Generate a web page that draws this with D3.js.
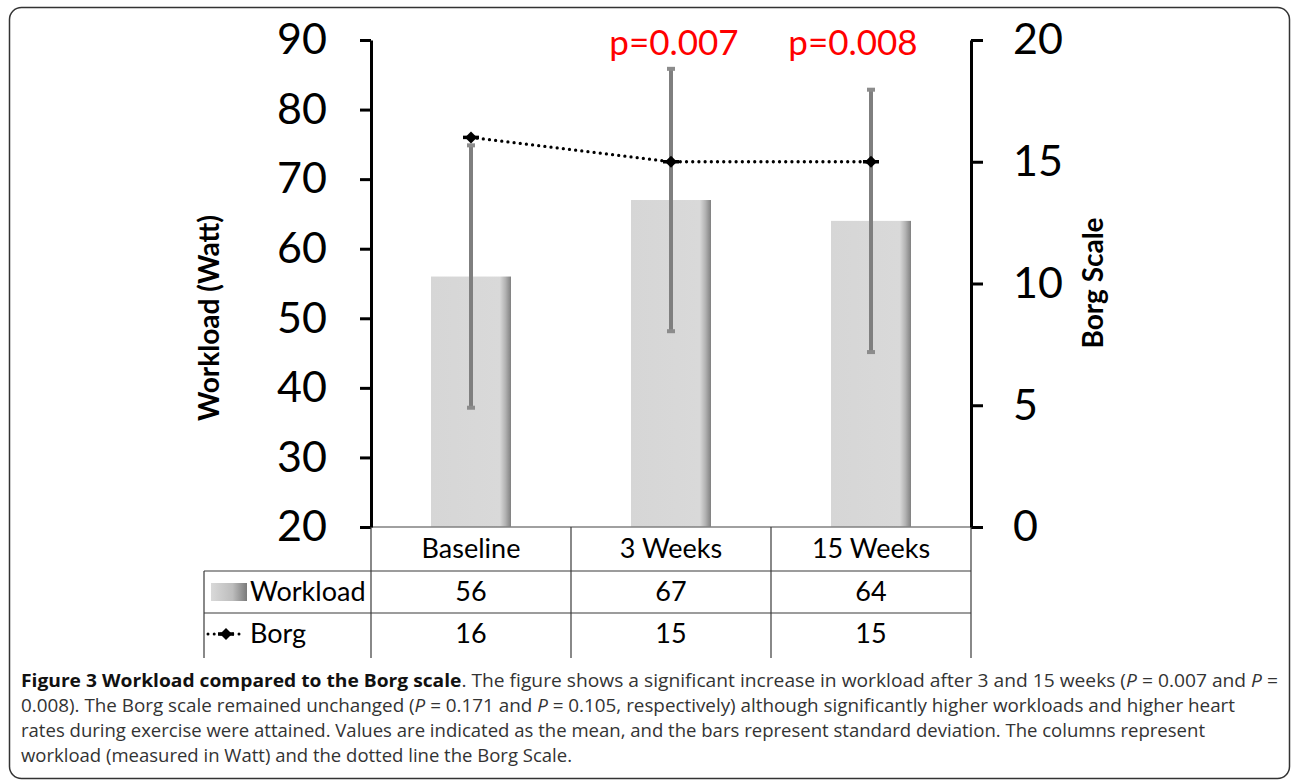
<!DOCTYPE html>
<html>
<head>
<meta charset="utf-8">
<script src="https://cdn.jsdelivr.net/npm/d3@7"></script>
<style>
  html, body { margin: 0; padding: 0; background: #fff; }
  svg { display: block; }
</style>
</head>
<body>
<svg id="chart" width="1292" height="780"></svg>
<script>
// ---- data ----
const categories = ["Baseline", "3 Weeks", "15 Weeks"];
const workload = [56, 67, 64];
const workloadSD = [19, 19, 19];
const borg = [16, 15, 15];
const leftTicks = [20, 30, 40, 50, 60, 70, 80, 90];
const rightTicks = [0, 5, 10, 15, 20];
const pCategories = ["3 Weeks", "15 Weeks"];
const pTexts = ["p=0.007", "p=0.008"];
const pOffsets = [3, -18];
const seriesNames = ["Workload", "Borg"];

const svg = d3.select("#chart");
const FONT = "Lato, 'Open Sans', sans-serif";

svg.append("rect").attr("width", 1292).attr("height", 780).attr("fill", "#fff");

// gradients
const defs = svg.append("defs");
const g1 = defs.append("linearGradient").attr("id", "barGrad").attr("x1", "0").attr("x2", "1").attr("y1", "0").attr("y2", "0");
g1.append("stop").attr("offset", "0").attr("stop-color", "#d6d6d6");
g1.append("stop").attr("offset", "0.86").attr("stop-color", "#d9d9d9");
g1.append("stop").attr("offset", "0.93").attr("stop-color", "#b3b3b3");
g1.append("stop").attr("offset", "1").attr("stop-color", "#808080");
const g2 = defs.append("linearGradient").attr("id", "legGrad").attr("x1", "0").attr("x2", "1").attr("y1", "0").attr("y2", "0");
g2.append("stop").attr("offset", "0").attr("stop-color", "#d9d9d9");
g2.append("stop").attr("offset", "0.6").attr("stop-color", "#bdbdbd");
g2.append("stop").attr("offset", "1").attr("stop-color", "#7a7a7a");

// outer frame
svg.append("rect").attr("x", 9.5).attr("y", 7.5).attr("width", 1280).attr("height", 771)
  .attr("rx", 12).attr("fill", "none").attr("stroke", "#333").attr("stroke-width", 1.5);

// scales
const x = d3.scaleBand().domain(categories).range([371, 971]).padding(0);
const xBar = d3.scaleBand().domain(categories).range([371, 971]).paddingInner(0.6).paddingOuter(0.3);
const yL = d3.scaleLinear().domain([20, 90]).range([527, 40]);
const yR = d3.scaleLinear().domain([0, 20]).range([527, 40]);

// bars
svg.append("g").selectAll("rect").data(categories).join("rect")
  .attr("x", d => xBar(d))
  .attr("width", xBar.bandwidth())
  .attr("y", (d, i) => yL(workload[i]))
  .attr("height", (d, i) => yL(20) - yL(workload[i]))
  .attr("fill", "url(#barGrad)");

// error bars
const eb = svg.append("g").attr("stroke", "#7f7f7f").attr("fill", "#8c8c8c");
categories.forEach((c, i) => {
  const cx = xBar(c) + xBar.bandwidth() / 2;
  const top = yL(workload[i] + workloadSD[i]);
  const bot = yL(workload[i] - workloadSD[i]);
  eb.append("line").attr("x1", cx).attr("x2", cx).attr("y1", top).attr("y2", bot).attr("stroke-width", 4);
  eb.append("rect").attr("x", cx - 4).attr("y", top - 1).attr("width", 8).attr("height", 4).attr("stroke", "none");
  eb.append("rect").attr("x", cx - 4).attr("y", bot - 3).attr("width", 8).attr("height", 4).attr("stroke", "none");
});

// x baseline
svg.append("line").attr("x1", 371).attr("x2", 971).attr("y1", yL(20)).attr("y2", yL(20))
  .attr("stroke", "#808080").attr("stroke-width", 1.5);

// left axis
const axL = svg.append("g").attr("transform", "translate(371,0)")
  .call(d3.axisLeft(yL).tickValues(leftTicks).tickSize(11).tickSizeOuter(0).tickPadding(33));
axL.select(".domain").attr("stroke", "#000").attr("stroke-width", 3);
axL.selectAll(".tick line").attr("stroke", "#000").attr("stroke-width", 3);
axL.selectAll(".tick text").attr("font-family", FONT).attr("font-size", 43).attr("fill", "#000");

// right axis
const axR = svg.append("g").attr("transform", "translate(971,0)")
  .call(d3.axisRight(yR).tickValues(rightTicks).tickSize(12).tickSizeOuter(0).tickPadding(30));
axR.select(".domain").attr("stroke", "#000").attr("stroke-width", 3);
axR.selectAll(".tick line").attr("stroke", "#000").attr("stroke-width", 3);
axR.selectAll(".tick text").attr("font-family", FONT).attr("font-size", 43).attr("fill", "#000");

// axis titles
svg.append("text").attr("transform", "translate(219,318) rotate(-90)")
  .attr("text-anchor", "middle").attr("font-family", FONT).attr("font-weight", "bold")
  .attr("font-size", 28).attr("fill", "#000").text("Workload (Watt)");
svg.append("text").attr("transform", "translate(1103,283) rotate(-90)")
  .attr("text-anchor", "middle").attr("font-family", FONT).attr("font-weight", "bold")
  .attr("font-size", 28).attr("fill", "#000").text("Borg Scale");

// Borg line
const borgPts = categories.map((c, i) => [xBar(c) + xBar.bandwidth() / 2, yR(borg[i])]);
svg.append("path").attr("d", d3.line()(borgPts)).attr("fill", "none")
  .attr("stroke", "#000").attr("stroke-width", 3.3).attr("stroke-dasharray", "0,6.2").attr("stroke-linecap", "round");

function marker(g, px, py) {
  g.append("path").attr("transform", `translate(${px},${py}) rotate(45)`)
    .attr("d", d3.symbol(d3.symbolSquare, 72)()).attr("fill", "#000");
  g.append("line").attr("x1", px - 8).attr("x2", px + 8).attr("y1", py).attr("y2", py)
    .attr("stroke", "#000").attr("stroke-width", 3.5);
}
const mk = svg.append("g");
borgPts.forEach(p => marker(mk, p[0], p[1]));

// p-value annotations
pCategories.forEach((c, i) => {
  svg.append("text").attr("x", x(c) + x.bandwidth() / 2 + pOffsets[i]).attr("y", 55)
    .attr("text-anchor", "middle").attr("font-family", FONT).attr("font-size", 35)
    .attr("fill", "#ff0000").text(pTexts[i]);
});

// data table
const tbl = svg.append("g").attr("stroke", "#3a3a3a").attr("stroke-width", 1.2);
const colEdges = [...categories.map(c => x(c)), x(categories[categories.length - 1]) + x.bandwidth()];
colEdges.forEach(ex => tbl.append("line").attr("x1", ex).attr("x2", ex).attr("y1", 527).attr("y2", 658));
tbl.append("line").attr("x1", 204).attr("x2", 204).attr("y1", 571).attr("y2", 658);
[571, 613].forEach(yy => tbl.append("line").attr("x1", 204).attr("x2", 971).attr("y1", yy).attr("y2", yy));

const rowY = [549, 592, 634];
const tFont = 27;
categories.forEach((c, i) => {
  const cx = x(c) + x.bandwidth() / 2;
  svg.append("text").attr("x", cx).attr("y", rowY[0]).attr("dy", "0.35em").attr("text-anchor", "middle")
    .attr("font-family", FONT).attr("font-size", tFont).attr("fill", "#000").text(c);
  svg.append("text").attr("x", cx).attr("y", rowY[1]).attr("dy", "0.35em").attr("text-anchor", "middle")
    .attr("font-family", FONT).attr("font-size", tFont).attr("fill", "#000").text(workload[i]);
  svg.append("text").attr("x", cx).attr("y", rowY[2]).attr("dy", "0.35em").attr("text-anchor", "middle")
    .attr("font-family", FONT).attr("font-size", tFont).attr("fill", "#000").text(borg[i]);
});
// legend keys
svg.append("rect").attr("x", 211).attr("y", 583).attr("width", 36).attr("height", 18).attr("fill", "url(#legGrad)");
svg.append("line").attr("x1", 208).attr("x2", 245).attr("y1", rowY[2]).attr("y2", rowY[2])
  .attr("stroke", "#000").attr("stroke-width", 3).attr("stroke-dasharray", "0,6.2").attr("stroke-linecap", "round");
marker(svg, 226, rowY[2]);
seriesNames.forEach((s, i) => {
  svg.append("text").attr("x", 250).attr("y", rowY[i + 1]).attr("dy", "0.35em")
    .attr("font-family", FONT).attr("font-size", tFont).attr("fill", "#000").text(s);
});

// caption
const CAP = "'Open Sans', 'Noto Sans', sans-serif";
const capLines = [
  { y: 687, w: 1257, parts: [
    ["Figure 3 Workload compared to the Borg scale", "bold", "normal"],
    [". The figure shows a significant increase in workload after 3 and 15 weeks (", "normal", "normal"],
    ["P", "normal", "italic"], [" = 0.007 and ", "normal", "normal"], ["P", "normal", "italic"], [" =", "normal", "normal"]] },
  { y: 712, w: 1214, parts: [
    ["0.008). The Borg scale remained unchanged (", "normal", "normal"], ["P", "normal", "italic"],
    [" = 0.171 and ", "normal", "normal"], ["P", "normal", "italic"],
    [" = 0.105, respectively) although significantly higher workloads and higher heart", "normal", "normal"]] },
  { y: 737, w: 1184, parts: [
    ["rates during exercise were attained. Values are indicated as the mean, and the bars represent standard deviation. The columns represent", "normal", "normal"]] },
  { y: 762, w: 551, parts: [
    ["workload (measured in Watt) and the dotted line the Borg Scale.", "normal", "normal"]] }
];
capLines.forEach(l => {
  const t = svg.append("text").attr("x", 21).attr("y", l.y).attr("font-family", CAP)
    .attr("font-size", 17.5).attr("fill", "#333")
    .attr("textLength", l.w).attr("lengthAdjust", "spacingAndGlyphs");
  l.parts.forEach(p => t.append("tspan").attr("font-weight", p[1]).attr("font-style", p[2])
    .attr("fill", p[1] === "bold" ? "#111" : "#333").text(p[0]));
});
</script>
</body>
</html>
